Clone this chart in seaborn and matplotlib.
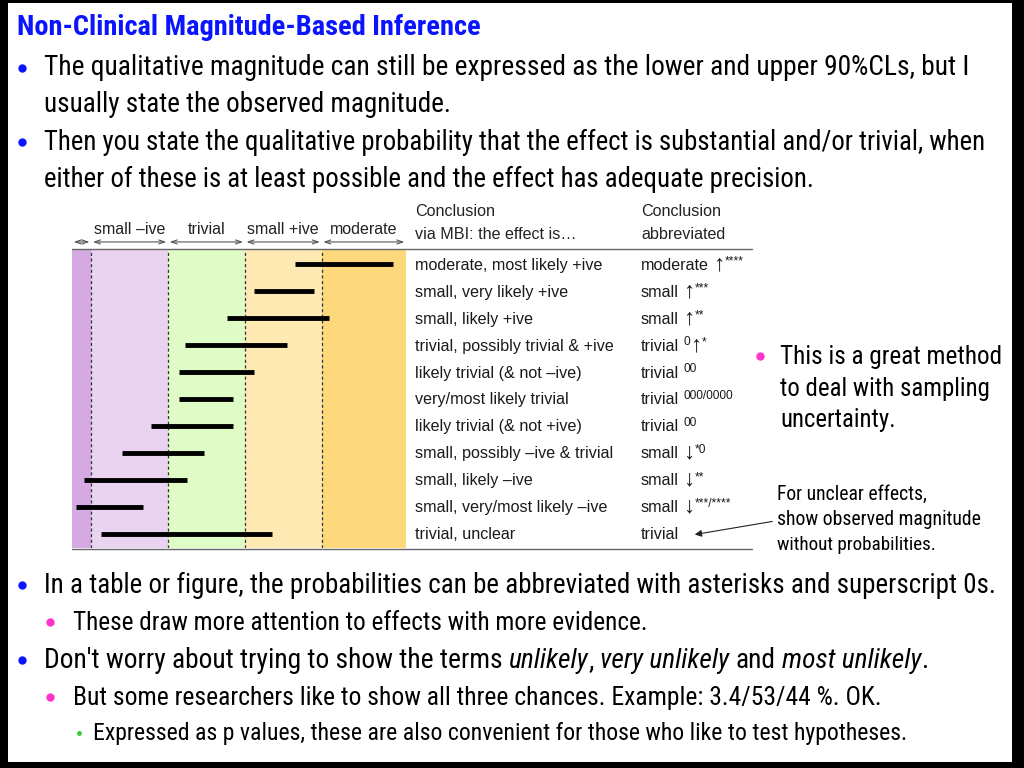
import matplotlib
matplotlib.use("Agg")
import matplotlib.pyplot as plt
import matplotlib.transforms as mtransforms
from matplotlib.lines import Line2D
from matplotlib.patches import Rectangle, FancyArrowPatch
from matplotlib import font_manager
from matplotlib.font_manager import FontProperties
import seaborn as sns
import pandas as pd

# ---------------- data ----------------
title = "Non-Clinical Magnitude-Based Inference"
top_lines = [
    "The qualitative magnitude can still be expressed as the lower and upper 90%CLs, but I",
    "usually state the observed magnitude.",
    "Then you state the qualitative probability that the effect is substantial and/or trivial, when",
    "either of these is at least possible and the effect has adequate precision.",
]
band_edges = [-0.70, -0.60, -0.20, 0.20, 0.60, 1.04]
band_colors = ["#d5a9e1", "#ead3f1", "#e0fcc6", "#fee9b3", "#fdd97c"]
band_labels = ["", "small \u2013ive", "trivial", "small +ive", "moderate"]
thresholds = [-0.60, -0.20, 0.20, 0.60]
conclusions = [
    "moderate, most likely +ive",
    "small, very likely +ive",
    "small, likely +ive",
    "trivial, possibly trivial & +ive",
    "likely trivial (& not \u2013ive)",
    "very/most likely trivial",
    "likely trivial (& not +ive)",
    "small, possibly \u2013ive & trivial",
    "small, likely \u2013ive",
    "small, very/most likely \u2013ive",
    "trivial, unclear",
]
abbreviations = [
    "moderate \u2191^****",
    "small \u2191^***",
    "small \u2191^**",
    "trivial ^0\u2191^*",
    "trivial ^00",
    "trivial ^000/0000",
    "trivial ^00",
    "small \u2193^*0",
    "small \u2193^**",
    "small \u2193^***/****",
    "trivial",
]
ci_lower = [0.46, 0.25, 0.11, -0.11, -0.14, -0.14, -0.29, -0.44, -0.64, -0.68, -0.55]
ci_upper = [0.97, 0.56, 0.64, 0.42, 0.25, 0.14, 0.14, -0.01, -0.10, -0.33, 0.34]
side_lines = ["This is a great method", "to deal with sampling", "uncertainty."]
note_lines = ["For unclear effects,", "show observed magnitude", "without probabilities."]
bottom_line1 = "In a table or figure, the probabilities can be abbreviated with asterisks and superscript 0s."
bottom_line2 = "These draw more attention to effects with more evidence."
bottom_line3 = [("Don't worry about trying to show the terms ", "n"), ("unlikely", "i"), (", ", "n"),
                ("very unlikely", "i"), (" and ", "n"), ("most unlikely", "i"), (".", "n")]
bottom_line4 = "But some researchers like to show all three chances. Example: 3.4/53/44 %. OK."
bottom_line5 = "Expressed as p values, these are also convenient for those who like to test hypotheses."

# ---------------- setup ----------------
W, H = 1024, 768
sns.set_theme(style="white")
REG = "Liberation Sans"
plt.rcParams["font.family"] = [REG, "DejaVu Sans"]

# look for a narrow / condensed sans face (Arial Narrow look-alike)
_prio = ["Liberation Sans Narrow", "Arial Narrow", "Roboto Condensed", "Open Sans Condensed",
         "Noto Sans Condensed", "Noto Sans", "Open Sans", "Roboto", "DejaVu Sans Condensed", "DejaVu Sans"]


def find_narrow(style, weight):
    for nm in _prio:
        for f in font_manager.fontManager.ttflist:
            if f.name != nm:
                continue
            narrow = ("Narrow" in nm or "Condensed" in nm or
                      f.stretch in ("condensed", "semi-condensed", "extra-condensed"))
            if not narrow:
                continue
            if str(f.stretch) in ("extra-condensed", "ultra-condensed"):
                continue
            if f.style != style:
                continue
            w = f.weight if isinstance(f.weight, int) else (700 if "bold" in str(f.weight) else 400)
            if abs(w - weight) > 50:
                continue
            return f.fname
    return None


NARROW_PATHS = {k: find_narrow(*v) for k, v in
                {"n": ("normal", 400), "i": ("italic", 400), "b": ("normal", 700)}.items()}

fig = plt.figure(figsize=(W / 100, H / 100), dpi=100)
fig.patch.set_facecolor("black")
fig.patches.append(Rectangle((8 / W, 1 - 762 / H), (1012 - 8) / W, (762 - 3) / H,
                             transform=fig.transFigure, facecolor="white", edgecolor="none", zorder=-5))
renderer = fig.canvas.get_renderer()
ID = mtransforms.IdentityTransform()


def py(y):
    return H - y


def make_text(x, y, s, size, narrow, kind, color, weight):
    style = "italic" if kind == "i" else "normal"
    if narrow:
        key = "b" if weight == "bold" else ("i" if kind == "i" else "n")
        path = NARROW_PATHS.get(key)
        if path:
            fp = FontProperties(fname=path, size=size)
            return fig.text(x, y, s, fontproperties=fp, color=color, va="baseline",
                            ha="left", transform=ID)
    return fig.text(x, y, s, fontsize=size, family=[REG, "DejaVu Sans"], style=style,
                    weight=weight, color=color, va="baseline", ha="left", transform=ID)


def runs(x, ybase, pieces, size, narrow=False, color="black", right=None, weight="normal"):
    """Lay out text pieces left to right in pixel coords; optionally fit to a right edge."""
    def layout(sz, draw):
        cx = x
        arts = []
        t1 = make_text(0, 0, "x x", sz, narrow, "n", color, weight)
        t2 = make_text(0, 0, "xx", sz, narrow, "n", color, weight)
        sp = t1.get_window_extent(renderer).width - t2.get_window_extent(renderer).width
        t1.remove(); t2.remove()
        for txt, kind in pieces:
            fs, dy = sz, 0
            if kind == "s":
                fs, dy = sz * 0.74, sz * 100 / 72 * 0.33
            elif kind == "a":
                fs, dy = sz * 1.4, -sz * 100 / 72 * 0.03
            lead = len(txt) - len(txt.lstrip(" "))
            trail = len(txt) - len(txt.rstrip(" "))
            core = txt.strip(" ")
            cx += lead * sp
            t = make_text(cx, py(ybase) + dy, core, fs, narrow, kind, color, weight)
            cx += t.get_window_extent(renderer).width
            cx += trail * sp
            arts.append(t)
        if not draw:
            for a in arts:
                a.remove()
        return cx
    if right is not None:
        end = layout(size, False)
        size = size * (right - x) / (end - x)
    layout(size, True)


def bullet(x, y, color, ms):
    fig.lines.append(Line2D([x / W], [1 - y / H], marker="o", ms=ms, color=color,
                            mec=color, transform=fig.transFigure))


# title and top bullets
runs(17, 35, [(title, "n")], 17, True, color="#0a14ff", right=480, weight="bold")
runs(44, 75, [(top_lines[0], "n")], 19, True, right=970)
runs(44, 112, [(top_lines[1], "n")], 19, True, right=451)
runs(44, 150, [(top_lines[2], "n")], 19, True, right=986)
runs(44, 187, [(top_lines[3], "n")], 19, True, right=818)
bullet(22, 68, "#0a14ff", 5)
bullet(22, 142, "#0a14ff", 5)

# ---------------- chart ----------------
ax = fig.add_axes([72 / W, 1 - 548 / H, (406 - 72) / W, (548 - 250) / H])
ax.patch.set_alpha(0)
for i in range(len(band_colors)):
    ax.axvspan(band_edges[i], band_edges[i + 1], color=band_colors[i], lw=0, zorder=0)
for t in thresholds:
    ax.axvline(t, color="#333333", lw=0.9, ls=(0, (2.5, 2.0)), zorder=1)

rows = list(range(len(conclusions)))
df = pd.DataFrame({"row": rows + rows, "x": ci_lower + ci_upper})
sns.lineplot(data=df, x="x", y="row", units="row", estimator=None, sort=False,
             color="black", lw=3.5, ax=ax, legend=False, zorder=3)
for ln in ax.lines:
    ln.set_solid_capstyle("butt")
ax.set_xlim(band_edges[0], band_edges[-1])
ax.set_ylim(len(rows) - 0.47, -0.53)
ax.set_axis_off()

xfm = ax.get_xaxis_transform()
for i in range(len(band_colors)):
    ax.annotate("", xy=(band_edges[i + 1], 1.027), xytext=(band_edges[i], 1.027),
                xycoords=xfm, textcoords=xfm,
                arrowprops=dict(arrowstyle="<->,head_length=0.35,head_width=0.12",
                                color="#555555", lw=0.8, shrinkA=1.2, shrinkB=1.2),
                annotation_clip=False)
    if band_labels[i]:
        ax.text((band_edges[i] + band_edges[i + 1]) / 2, 1.07, band_labels[i], transform=xfm,
                ha="center", va="center", fontsize=11.5, color="#222222", family=[REG, "DejaVu Sans"])

# horizontal rules
for yy in (249, 549):
    fig.lines.append(Line2D([72 / W, 752 / W], [1 - yy / H] * 2, color="#666666", lw=1.0,
                            transform=fig.transFigure))

# column headers
for x0, l1, l2 in ((415, "Conclusion", "via MBI: the effect is\u2026"),
                   (641, "Conclusion", "abbreviated")):
    runs(x0, 216, [(l1, "n")], 11.6, color="#222222")
    runs(x0, 239, [(l2, "n")], 11.6, color="#222222")

# row labels and abbreviations
for i in rows:
    yb = H - ax.transData.transform((0, i))[1] + 5.5
    runs(415, yb, [(conclusions[i], "n")], 11.6, color="#1a1a1a")
    s = abbreviations[i]
    pieces = []
    buf, kind = "", "n"
    for ch in s:
        if ch == "^":
            if buf:
                pieces.append((buf, kind))
            buf, kind = "", "s"
        elif ch in "\u2191\u2193":
            if buf:
                pieces.append((buf, kind))
            pieces.append((ch, "a"))
            buf, kind = "", "n"
        else:
            buf += ch
    if buf:
        pieces.append((buf, kind))
    runs(641, yb, pieces, 11.6, color="#1a1a1a")

# side text
bullet(760, 356, "#ff33cc", 5)
for j, (s, yb) in enumerate(zip(side_lines, (364, 396, 427))):
    runs(780, yb, [(s, "n")], 19, True, right=(1002, 990, 896)[j])
for j, (s, yb) in enumerate(zip(note_lines, (500, 525, 550))):
    runs(777, yb, [(s, "n")], 14, True, right=(928, 983, 937)[j])
fig.patches.append(FancyArrowPatch(
    (775 / W, 1 - 521 / H), (692 / W, 1 - 535 / H), transform=fig.transFigure,
    arrowstyle="-|>,head_length=4,head_width=2", color="#222222", lw=0.8))

# bottom bullets
bullet(22, 585, "#0a14ff", 5)
runs(44, 593, [(bottom_line1, "n")], 19, True, right=997)
bullet(50, 622, "#ff33cc", 5)
runs(73, 630, [(bottom_line2, "n")], 17, True, right=645)
bullet(22, 660, "#0a14ff", 5)
runs(44, 668, bottom_line3, 19, True, right=931)
bullet(50, 697, "#ff33cc", 5)
runs(73, 705, [(bottom_line4, "n")], 17, True, right=880)
bullet(79, 733, "#33cc33", 2.5)
runs(93, 740, [(bottom_line5, "n")], 15.5, True, right=905)

fig.savefig("out.png", dpi=100, facecolor=fig.get_facecolor())
